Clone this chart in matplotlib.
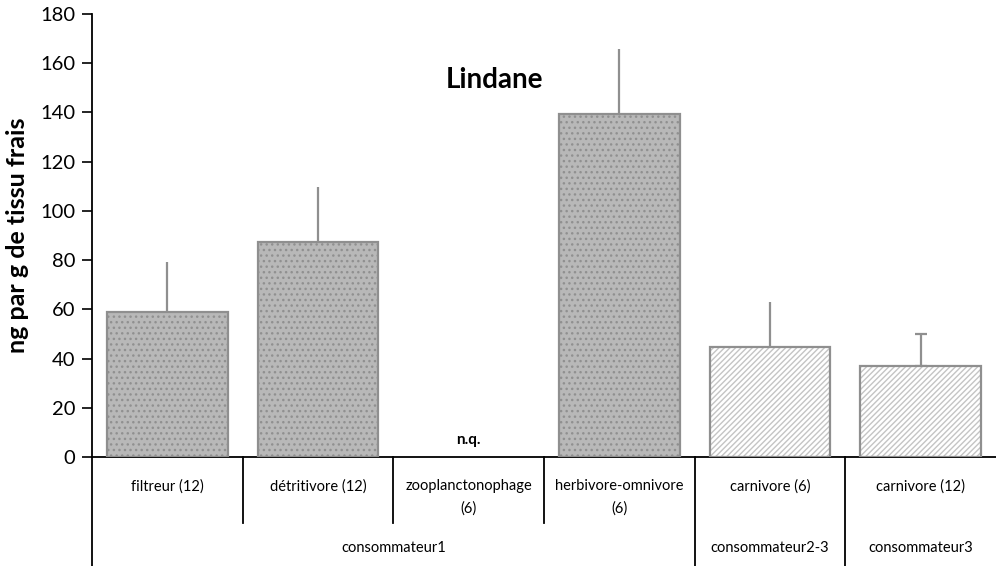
import matplotlib

matplotlib.use("Agg")
import matplotlib.pyplot as plt
from matplotlib.lines import Line2D

plt.rcParams["font.family"] = ["Lato", "DejaVu Sans"]
plt.rcParams["hatch.linewidth"] = 1.0

categories = ["filtreur (12)", "détritivore (12)", "zooplanctonophage\n(6)",
              "herbivore-omnivore\n(6)", "carnivore (6)", "carnivore (12)"]
groups = ["consommateur1", "consommateur2-3", "consommateur3"]
group_spans = [(0, 4), (4, 5), (5, 6)]
means = [58.9, 87.4, 0.0, 139.4, 44.7, 37.0]
upper_err = [20.3, 22.3, 0.0, 26.4, 18.3, 13.0]
hatched = [False, False, False, False, True, True]
measured = [True, True, False, True, True, True]
y_ticks = [0, 20, 40, 60, 80, 100, 120, 140, 160, 180]

fig = plt.figure(figsize=(9.96, 5.66), dpi=100)
ax = fig.add_axes([0.0924, 0.1926, 0.9076, 0.7827])

edge = "#8f8f8f"
for i, (m, e) in enumerate(zip(means, upper_err)):
    if not measured[i]:
        continue
    if hatched[i]:
        ax.bar(i, m, width=0.8, color="white", hatch="//////",
               edgecolor="#c4c4c4", linewidth=0, zorder=2)
    else:
        ax.bar(i, m, width=0.8, color="#b8b8b8", hatch="...",
               edgecolor="#909090", linewidth=0, zorder=2)
    ax.bar(i, m, width=0.8, fill=False, edgecolor=edge, linewidth=1.6, zorder=3)
    cap = 4 if i == 5 else 0
    ax.errorbar(i, m, yerr=[[0], [e]], fmt="none", ecolor=edge,
                elinewidth=1.6, capsize=cap, capthick=1.6, zorder=1)

ax.text(2, 4, "n.q.", ha="center", va="bottom", fontsize=11, fontweight="bold")

ax.set_xlim(-0.5, 5.5)
ax.set_ylim(0, 180)
ax.set_yticks(y_ticks)
ax.tick_params(axis="y", labelsize=14.5, length=7, width=1.2, direction="out", pad=5)
ax.set_xticks([])
ax.set_ylabel("ng par g de tissu frais", fontsize=18, fontweight="bold", labelpad=8)
ax.spines["top"].set_visible(False)
ax.spines["right"].set_visible(False)
ax.spines["left"].set_linewidth(1.3)
ax.spines["bottom"].set_linewidth(1.3)

ax.text(0.445, 0.85, "Lindane", transform=ax.transAxes, ha="center", va="center",
        fontsize=20, fontweight="bold")

# multi-level category axis below the plot
tr = ax.get_xaxis_transform()
y_px = ax.get_window_extent().height
def ay(px):
    return -px / y_px

ax.add_line(Line2D([-0.5, -0.5], [0, ay(109)], transform=tr, color="black",
                   lw=1.3, clip_on=False))
for b in range(1, 6):
    bx = b - 0.5
    full = any(bx == s - 0.5 for s, _ in group_spans)
    bottom = ay(109) if full else ay(66)
    ax.add_line(Line2D([bx, bx], [0, bottom], transform=tr, color="black",
                       lw=1.3, clip_on=False))

for i, lab in enumerate(categories):
    ax.text(i, ay(22), lab, transform=tr, ha="center", va="top", fontsize=10.5,
            linespacing=1.75)

for g, (s, e) in zip(groups, group_spans):
    ax.text((s + e - 1) / 2, ay(91), g, transform=tr, ha="center", va="center",
            fontsize=10.5)

fig.savefig("out.png", dpi=100)
